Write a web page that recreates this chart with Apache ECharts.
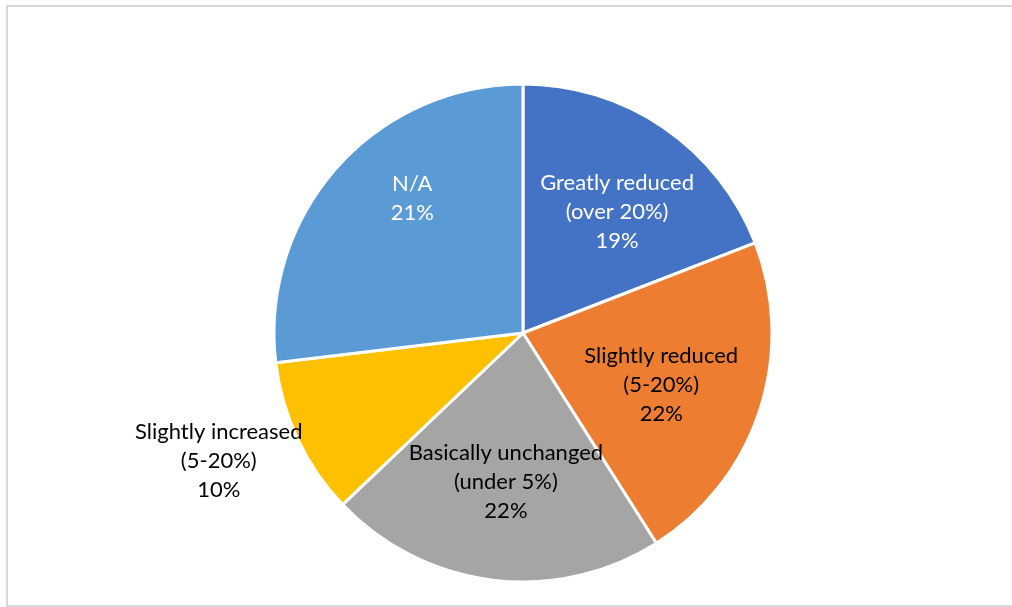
<!DOCTYPE html>
<html>
<head>
<meta charset="utf-8">
<script src="https://cdn.jsdelivr.net/npm/echarts@6/dist/echarts.min.js"></script>
<style>
  html, body { margin: 0; padding: 0; background: #fff; }
  #frame { position: absolute; left: 6px; top: 5px; width: 1020px; height: 602px; border: 2px solid #d9d9d9; box-sizing: border-box; }
  #chart { position: absolute; left: 0; top: 0; width: 1012px; height: 607px; }
</style>
</head>
<body>
<div id="frame"></div>
<div id="chart"></div>
<script>
const categories = ["Greatly reduced\n(over 20%)", "Slightly reduced\n(5-20%)", "Basically unchanged\n(under 5%)", "Slightly increased\n(5-20%)", "N/A"];
const sliceValues = [19.1, 21.9, 21.9, 10.2, 26.9];
const shownPercents = ["19%", "22%", "22%", "10%", "21%"];

const sliceColors = ["#4472C4", "#ED7D31", "#A5A5A5", "#FFC000", "#5B9BD5"];
const labelColors = ["#ffffff", "#000000", "#000000", "#000000", "#ffffff"];
const outsideLabel = [false, false, false, true, false];
// small nudges so each label sits where the original placed it
const labelOffsets = [[6, 8], [-10, 3], [2, -6], [-2, -14], [6, -31]];

const chart = echarts.init(document.getElementById("chart"));

const center = ["523", "333"];
const fontFamily = "Lato, 'Open Sans', sans-serif";

const pieData = categories.map((name, i) => ({
    name: name,
    value: sliceValues[i],
    itemStyle: { color: sliceColors[i] },
}));

// label-only rings, same data, so labels sit where the original has them
const labelData = (outside) => categories.map((name, i) => ({
    name: name,
    value: sliceValues[i],
    label: {
        show: outsideLabel[i] === outside,
        color: labelColors[i],
        offset: labelOffsets[i],
        formatter: name + "\n" + shownPercents[i],
    },
}));

const labelStyle = { position: "inside", fontSize: 22, fontFamily: fontFamily, lineHeight: 29, align: "center" };

const option = {
    animation: false,
    series: [
        {
            type: "pie",
            center: center,
            radius: [0, 249],
            startAngle: 90,
            clockwise: true,
            data: pieData,
            itemStyle: { borderColor: "#ffffff", borderWidth: 3 },
            label: { show: false },
            labelLine: { show: false },
            silent: true,
        },
        {
            type: "pie",
            center: center,
            radius: [0, 306],
            startAngle: 90,
            clockwise: true,
            data: labelData(false),
            itemStyle: { color: "transparent" },
            label: labelStyle,
            labelLine: { show: false },
            silent: true,
        },
        {
            type: "pie",
            center: center,
            radius: [300, 362],
            startAngle: 90,
            clockwise: true,
            data: labelData(true),
            itemStyle: { color: "transparent" },
            label: labelStyle,
            labelLine: { show: false },
            silent: true,
        },
    ],
};

chart.setOption(option);
</script>
</body>
</html>
